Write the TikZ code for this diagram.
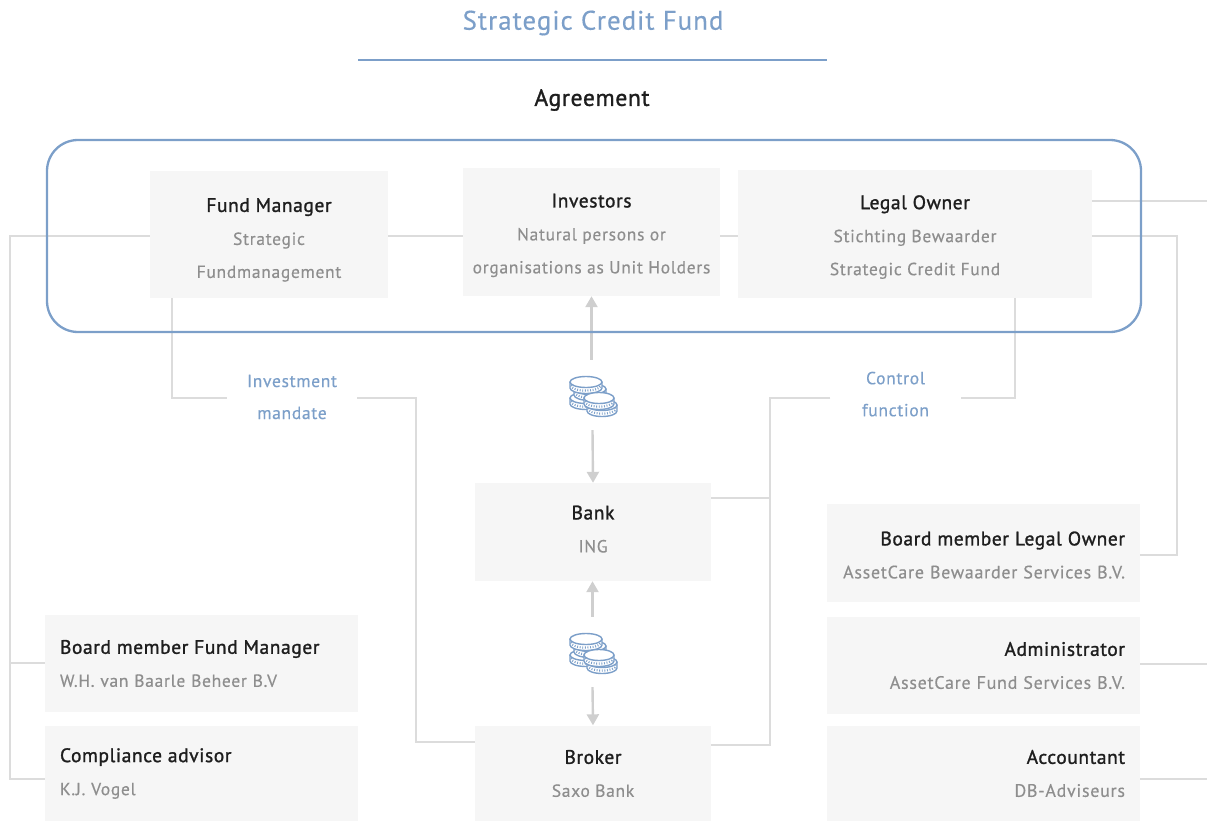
\documentclass[tikz,border=0pt]{standalone}
\usepackage{fontspec}
\setmainfont{PT Sans}
\newfontfamily\headf[FakeBold=1.3,LetterSpace=3]{PT Sans}
\newfontfamily\subf[FakeBold=0.4,LetterSpace=4]{PT Sans}
\usetikzlibrary{arrows.meta,calc}
\definecolor{cardfill}{HTML}{F6F6F6}
\definecolor{wire}{HTML}{DCDCDC}
\definecolor{arrowc}{HTML}{CFCFCF}
\definecolor{ink}{HTML}{1E1E1E}
\definecolor{muted}{HTML}{8E8E8E}
\definecolor{accent}{HTML}{7C9FC9}
\newcommand{\cardtext}[3][0pt]{{\fontsize{19.5}{33}\selectfont\headf\color{ink}\rule{0pt}{#1}#2}\\#3}
\newcommand{\coin}[3]{%
  \fill[white] (#1-#3,#2) -- (#1-#3,#2+6) arc[start angle=180,end angle=360,x radius=#3pt,y radius=5.5pt] -- (#1+#3,#2) -- cycle;
  \draw[accent,line width=1.4pt] (#1-#3,#2) -- (#1-#3,#2+6) arc[start angle=180,end angle=360,x radius=#3pt,y radius=5.5pt] -- (#1+#3,#2);
  \draw[accent,line width=2.2pt,dash pattern=on 0.9pt off 1.7pt] (#1-#3+1,#2+3.4) arc[start angle=180,end angle=360,x radius=#3pt-1pt,y radius=5.2pt];
  \draw[accent,line width=1.4pt,fill=white] (#1,#2) ellipse[x radius=#3pt,y radius=5.5pt];
}
\tikzset{
  x=1pt,y=-1pt,
  card/.style={fill=cardfill,draw=none,inner sep=0pt,text=muted,
    font=\fontsize{17.5}{33}\selectfont\subf},
  cardc/.style={card,align=center,minimum width=#1},
  cardl/.style={card,align=left,inner xsep=15pt,text width=283pt,minimum height=97pt},
  cardr/.style={card,align=right,inner xsep=15pt,text width=283pt,minimum height=97pt,
    font=\fontsize{18}{33}\selectfont\subf},
  tag/.style={fill=white,draw=none,inner sep=0pt,text=accent,align=center,
    minimum width=130pt,minimum height=67pt,font=\fontsize{17.5}{32}\selectfont\subf},
  iconholder/.style={fill=white,draw=none,inner sep=0pt,minimum width=70pt,minimum height=70pt},
  wireline/.style={draw=wire,line width=1.4pt},
  flow/.style={draw=arrowc,line width=2.4pt,-{Triangle[length=11pt,width=12pt,fill=arrowc]}},
  frame/.style={draw=accent,line width=2.3pt,rounded corners=31pt,fill=none,inner sep=0pt},
}
\begin{document}
\begin{tikzpicture}
\useasboundingbox (0,0) rectangle (1207,821);
% headings
\node[text=accent,inner sep=0pt,font=\fontsize{26.8}{30}\selectfont\subf] (title) at (593,23) {Strategic Credit Fund};
\node[text=ink,inner sep=0pt,font=\fontsize{23.5}{26}\selectfont\headf] (agreement) at (592,100) {Agreement};
\coordinate (ruleL) at (358,60);
\coordinate (ruleR) at (827,60);
\draw[accent,line width=2.8pt] (ruleL) -- (ruleR);
% cards
\node[cardc=238pt,minimum height=127pt] (fm) at (269,234.5) {\cardtext[24.5pt]{Fund Manager}{Strategic\\Fundmanagement}};
\node[cardc=257pt,minimum height=128pt] (inv) at (591.5,232) {\cardtext[20.5pt]{Investors}{Natural persons or\\organisations as Unit Holders}};
\node[cardc=354pt,minimum height=128pt] (legal) at (915,234) {\cardtext[20pt]{Legal Owner}{Stichting Bewaarder\\Strategic Credit Fund}};
\node[cardc=236pt,minimum height=98pt] (bank) at (593,532) {\cardtext{Bank}{ING\rule[-6pt]{0pt}{0pt}}};
\node[cardc=236pt,minimum height=96pt] (broker) at (593,773.5) {\cardtext{Broker}{Saxo Bank}};
\node[cardl] (bmfm) at (201.5,663.5) {\cardtext{Board member Fund Manager}{W.H. van Baarle Beheer B.V}};
\node[cardl,minimum height=96pt] (comp) at (201.5,773.5) {\cardtext{Compliance advisor}{K.J. Vogel}};
\node[cardr,minimum height=98pt] (bmlo) at (983.5,553) {\cardtext[18pt]{Board member Legal Owner}{AssetCare Bewaarder Services B.V.}};
\node[cardr] (admin) at (983.5,665.5) {\cardtext{Administrator}{AssetCare Fund Services B.V.}};
\node[cardr,minimum height=96pt] (acct) at (983.5,773.5) {\cardtext{Accountant}{DB-Adviseurs}};
% tags and icons
\node[tag] (mandate) at (292,397) {Investment\\mandate};
\node[tag] (control) at (895.5,397) {Control\\function\rule[-6pt]{0pt}{0pt}};
\node[iconholder] (coinsA) at (592.5,395) {};
\node[iconholder] (coinsB) at (592.5,652) {};
% free ends
\coordinate (railL) at (10,236);
\coordinate (exitA) at (1207,201);
\coordinate (exitB) at (1207,664);
\coordinate (exitC) at (1207,779);
% connectors
\draw[wireline] (fm.west |- railL) -- (railL) -- (railL |- 0,779) -- (comp.west |- 0,779);
\draw[wireline] (railL |- 0,663) -- (bmfm.west |- 0,663);
\draw[wireline] (fm.east |- 0,236) -- (inv.west |- 0,236);
\draw[wireline] (inv.east |- 0,236) -- (legal.west |- 0,236);
\draw[wireline] (legal.east |- exitA) -- (exitA);
\draw[wireline] (legal.east |- 0,236) -- (1177,236) -- (1177,555) -- (bmlo.east |- 0,555);
\draw[wireline] (admin.east |- exitB) -- (exitB);
\draw[wireline] (acct.east |- exitC) -- (exitC);
\draw[wireline] (172,298) -- (172,398) -- (mandate.west |- 0,398);
\draw[wireline] (mandate.east |- 0,398) -- (416,398) -- (416,742) -- (broker.west |- 0,742);
\draw[wireline] (1015,298) -- (1015,398) -- (control.east |- 0,398);
\draw[wireline] (control.west |- 0,398) -- (770,398) -- (770,745) -- (broker.east |- 0,745);
\draw[wireline] (bank.east |- 0,498) -- (770,498);
\draw[flow] (coinsA.north -| inv.south) -- (inv.south);
\draw[flow] (coinsA.south) -- (bank.north);
\draw[flow] (coinsB.north) -- (bank.south -| coinsB.north);
\draw[flow] (coinsB.south) -- (broker.north);
% frame
\node[frame,minimum width=1094pt,minimum height=192pt] (fund) at (594,236) {};
% coin icons
\foreach \dy in {0,257}{
  \coin{586}{\dy+398}{16}
  \coin{590}{\dy+389}{16}
  \coin{586}{\dy+382}{16}
  \coin{602}{\dy+405}{15}
  \coin{599}{\dy+398}{15}
}
\end{tikzpicture}
\end{document}
